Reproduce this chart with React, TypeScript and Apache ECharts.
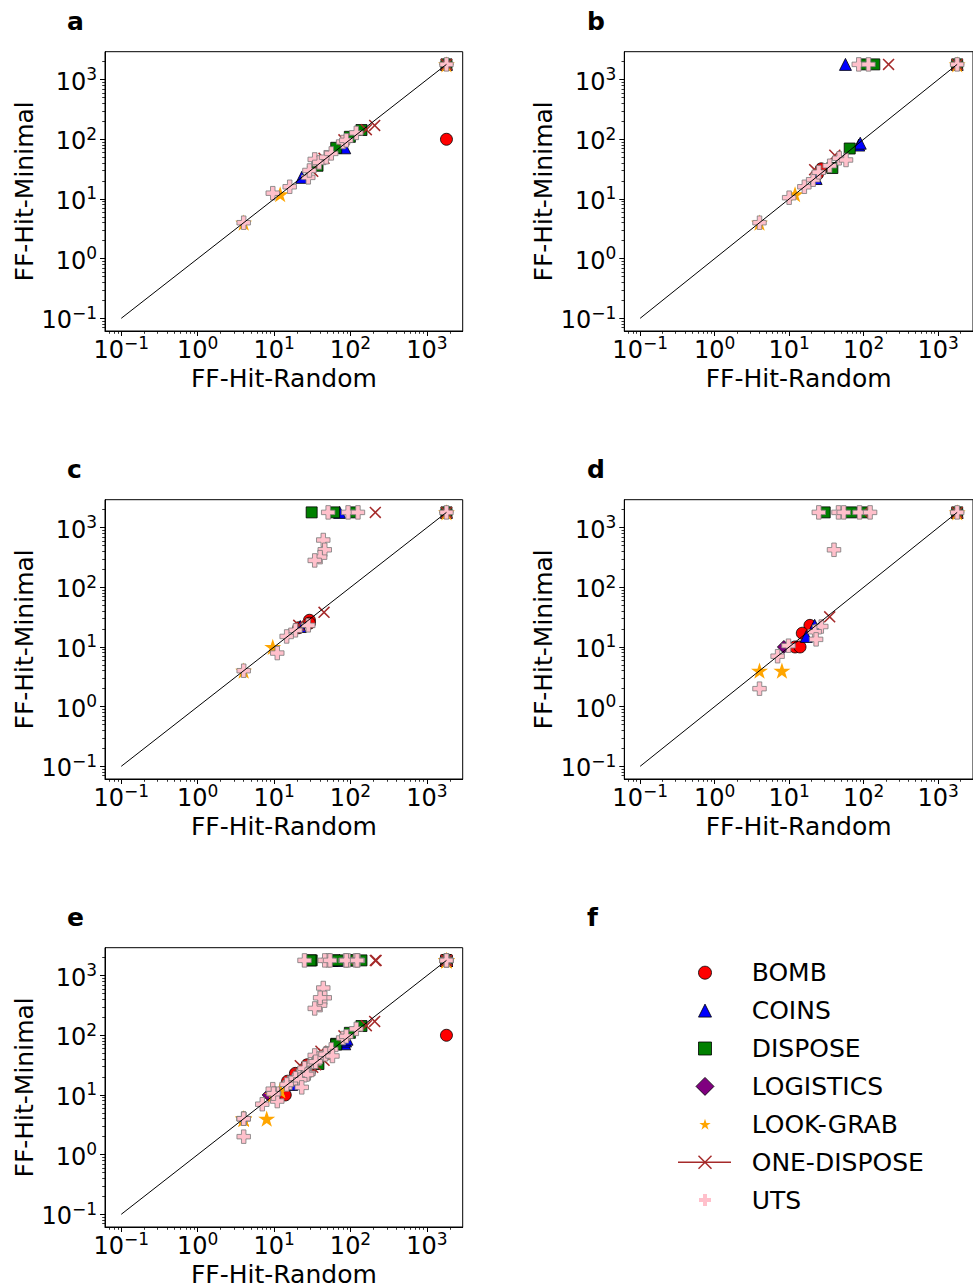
import React, { useEffect, useRef } from "react";
import * as echarts from "echarts";

type P = [number, number][];

const SERIES_NAMES = ["BOMB", "COINS", "DISPOSE", "LOGISTICS", "LOOK-GRAB", "ONE-DISPOSE", "UTS"];
const PANEL_LETTERS = ["a", "b", "c", "d", "e", "f"];
const TICK_VALUES = [0.1, 1, 10, 100, 1000];
const X_NAME = "FF-Hit-Random";
const Y_NAME = "FF-Hit-Minimal";
const DIAGONAL: P = [[0.1, 0.1], [1800, 1800]];

// ---- panel a ----
const A_BOMB: P = [[1800, 1800], [1800, 100]];
const A_COINS: P = [[1800, 1800], [23, 23], [84, 72]];
const A_DISPOSE: P = [[1800, 1800], [37, 36], [65, 72], [98, 110], [139, 143]];
const A_LOGISTICS: P = [[1800, 1800]];
const A_LOOKGRAB: P = [[1800, 1800], [4, 4], [12, 12]];
const A_ONEDISPOSE: P = [[1800, 1800], [32, 29], [45, 48], [82, 98], [161, 145], [207, 171]];
const A_UTS: P = [[1800, 1800], [4, 4], [9.6, 12.5], [16, 16], [28, 23], [29, 30], [34, 46], [39, 41], [48, 50], [56, 58], [80, 90], [88, 96], [119, 128]];

// ---- panel b ----
const B_BOMB: P = [[1800, 1800], [27, 32], [24, 26]];
const B_COINS: P = [[1800, 1800], [57, 1800], [23, 22], [86, 80], [90, 86]];
const B_DISPOSE: P = [[1800, 1800], [100, 1800], [139, 1800], [38, 33], [65, 70]];
const B_LOGISTICS: P = [[1800, 1800]];
const B_LOOKGRAB: P = [[1800, 1800], [4, 4], [12, 12]];
const B_ONEDISPOSE: P = [[1800, 1800], [216, 1800], [22, 31], [41, 54]];
const B_UTS: P = [[1800, 1800], [86, 1800], [116, 1800], [4, 4], [10, 10.5], [16, 16], [21, 21], [25, 28], [35, 36], [47, 48], [58, 45]];

// ---- panel c ----
const C_BOMB: P = [[1800, 1800], [29, 28], [29, 25], [21, 21]];
const C_COINS: P = [[1800, 1800], [72, 1800], [22, 22]];
const C_DISPOSE: P = [[1800, 1800], [31, 1800], [61, 1800], [110, 1800]];
const C_LOGISTICS: P = [[1800, 1800]];
const C_LOOKGRAB: P = [[1800, 1800], [4, 4], [9.6, 10]];
const C_ONEDISPOSE: P = [[1800, 1800], [211, 1800], [45, 38], [21, 23]];
const C_UTS: P = [[1800, 1800], [51, 1800], [93, 1800], [125, 1800], [44, 620], [46, 425], [40, 320], [34, 282], [28, 23], [19, 19], [14.6, 15], [11, 7.9], [4, 4]];

// ---- panel d ----
const D_BOMB: P = [[1800, 1800], [19, 23], [15, 17], [12, 10], [14, 10]];
const D_COINS: P = [[1800, 1800], [22, 23], [17, 15]];
const D_DISPOSE: P = [[1800, 1800], [30, 1800], [68, 1800], [100, 1800]];
const D_LOGISTICS: P = [[1800, 1800], [8.5, 10]];
const D_LOOKGRAB: P = [[1800, 1800], [4, 4], [8, 4]];
const D_ONEDISPOSE: P = [[1800, 1800], [98, 1800], [35, 32]];
const D_UTS: P = [[1800, 1800], [25, 1800], [46, 1800], [54, 1800], [88, 1800], [122, 1800], [40, 425], [27, 22], [22, 18], [23, 13.4], [9.8, 10.5], [7, 7], [4, 2]];

// ---- panel e: all runs together ----
const E_BOMB: P = [...A_BOMB, ...B_BOMB, ...C_BOMB, ...D_BOMB];
const E_COINS: P = [...A_COINS, ...B_COINS, ...C_COINS, ...D_COINS];
const E_DISPOSE: P = [...A_DISPOSE, ...B_DISPOSE, ...C_DISPOSE, ...D_DISPOSE];
const E_LOGISTICS: P = [...A_LOGISTICS, ...B_LOGISTICS, ...C_LOGISTICS, ...D_LOGISTICS];
const E_LOOKGRAB: P = [...A_LOOKGRAB, ...B_LOOKGRAB, ...C_LOOKGRAB, ...D_LOOKGRAB];
const E_ONEDISPOSE: P = [...A_ONEDISPOSE, ...B_ONEDISPOSE, ...C_ONEDISPOSE, ...D_ONEDISPOSE];
const E_UTS: P = [...A_UTS, ...B_UTS, ...C_UTS, ...D_UTS];

const PANEL_DATA: P[][] = [
  [A_BOMB, A_COINS, A_DISPOSE, A_LOGISTICS, A_LOOKGRAB, A_ONEDISPOSE, A_UTS],
  [B_BOMB, B_COINS, B_DISPOSE, B_LOGISTICS, B_LOOKGRAB, B_ONEDISPOSE, B_UTS],
  [C_BOMB, C_COINS, C_DISPOSE, C_LOGISTICS, C_LOOKGRAB, C_ONEDISPOSE, C_UTS],
  [D_BOMB, D_COINS, D_DISPOSE, D_LOGISTICS, D_LOOKGRAB, D_ONEDISPOSE, D_UTS],
  [E_BOMB, E_COINS, E_DISPOSE, E_LOGISTICS, E_LOOKGRAB, E_ONEDISPOSE, E_UTS],
];

// ---- styling / layout ----
const FONT = "DejaVu Sans";
const AX_MIN = Math.pow(10, -1.2128);
const AX_MAX = Math.pow(10, 3.4678);
const COL_LEFT = [105, 624.3];
const ROW_TOP = [51.7, 499.7, 947.7];
const GW = 357.7;
const GH = 279.3;

const MINOR_TICKS: number[] = [];
for (let p = -2; p <= 3; p++) {
  for (let k = 2; k <= 9; k++) {
    const v = k * Math.pow(10, p);
    if (v > AX_MIN && v < AX_MAX) MINOR_TICKS.push(v);
  }
}

function starPts(cx: number, cy: number, R: number): number[][] {
  const pts: number[][] = [];
  for (let i = 0; i < 10; i++) {
    const r = i % 2 === 0 ? R : R * 0.381966;
    const a = -Math.PI / 2 + (i * Math.PI) / 5;
    pts.push([cx + r * Math.cos(a), cy + r * Math.sin(a)]);
  }
  return pts;
}
const STAR_PATH = "path://M" + starPts(50, 50, 50).map((p) => p[0].toFixed(2) + "," + p[1].toFixed(2)).join("L") + "Z";
const PLUS_PATH = "path://M2,0L4,0L4,2L6,2L6,4L4,4L4,6L2,6L2,4L0,4L0,2L2,2Z";
const X_PATH = "path://M0,9L9,0L50,41L91,0L100,9L59,50L100,91L91,100L50,59L9,100L0,91L41,50Z";

const STYLES = [
  { symbol: "circle", size: 12, color: "#ff0000", border: "#000000", bw: 0.8 },
  { symbol: "triangle", size: 12, color: "#0000ff", border: "#000000", bw: 0.8 },
  { symbol: "rect", size: 11, color: "#008000", border: "#000000", bw: 0.8 },
  { symbol: "diamond", size: 13, color: "#800080", border: "#000000", bw: 0.8 },
  { symbol: STAR_PATH, size: 17, color: "#ffa500", border: "#ffa500", bw: 0 },
  { symbol: X_PATH, size: 12, color: "#a52a2a", border: "#a52a2a", bw: 0 },
  { symbol: PLUS_PATH, size: 13.5, color: "#ffc0cb", border: "#7a7a7a", bw: 0.8 },
];

const fmtPow = (v: number) => {
  const e = Math.round(Math.log10(v));
  return `{b|10}{e|${e < 0 ? "\u2212" + -e : e}}`;
};
const RICH = {
  b: { fontSize: 24, fontFamily: FONT, color: "#000", lineHeight: 28, verticalAlign: "bottom" },
  e: { fontSize: 17, fontFamily: FONT, color: "#000", lineHeight: 14, verticalAlign: "top" },
};

function buildOption() {
  const grid: any[] = [];
  const xAxis: any[] = [];
  const yAxis: any[] = [];
  const series: any[] = [];
  const graphic: any[] = [];

  PANEL_DATA.forEach((panel, i) => {
    const col = i % 2;
    const row = Math.floor(i / 2);
    grid.push({
      left: COL_LEFT[col],
      top: ROW_TOP[row],
      width: GW,
      height: GH,
      show: true,
      borderColor: "#000",
      borderWidth: 1,
      backgroundColor: "transparent",
    });
    const common = {
      type: "log",
      logBase: 10,
      gridIndex: i,
      min: AX_MIN,
      max: AX_MAX,
      splitLine: { show: false },
      minorTick: { show: false },
      minorSplitLine: { show: false },
    };
    xAxis.push({
      ...common,
      position: "bottom",
      axisLine: { show: true, onZero: false, lineStyle: { color: "#000", width: 1 } },
      axisTick: { show: true, inside: false, length: 5, customValues: TICK_VALUES, lineStyle: { color: "#000", width: 1 } },
      axisLabel: { show: true, customValues: TICK_VALUES, formatter: fmtPow, rich: RICH, margin: 3, color: "#000" },
      name: X_NAME,
      nameLocation: "middle",
      nameGap: 34,
      nameTextStyle: { fontSize: 25, fontFamily: FONT, color: "#000", lineHeight: 26 },
    });
    xAxis.push({
      ...common,
      position: "bottom",
      axisLine: { show: false },
      axisTick: { show: true, inside: false, length: 2.8, customValues: MINOR_TICKS, lineStyle: { color: "#000", width: 0.8 } },
      axisLabel: { show: false },
    });
    yAxis.push({
      ...common,
      position: "left",
      axisLine: { show: true, onZero: false, lineStyle: { color: "#000", width: 1 } },
      axisTick: { show: true, inside: false, length: 5, customValues: TICK_VALUES, lineStyle: { color: "#000", width: 1 } },
      axisLabel: { show: true, customValues: TICK_VALUES, formatter: fmtPow, rich: RICH, margin: 8, color: "#000" },
      name: Y_NAME,
      nameLocation: "middle",
      nameGap: 68,
      nameRotate: 90,
      nameTextStyle: { fontSize: 25, fontFamily: FONT, color: "#000", lineHeight: 26 },
    });
    yAxis.push({
      ...common,
      position: "left",
      axisLine: { show: false },
      axisTick: { show: true, inside: false, length: 2.8, customValues: MINOR_TICKS, lineStyle: { color: "#000", width: 0.8 } },
      axisLabel: { show: false },
    });

    panel.forEach((data, s) => {
      const st = STYLES[s];
      series.push({
        type: "scatter",
        name: SERIES_NAMES[s],
        xAxisIndex: 2 * i,
        yAxisIndex: 2 * i,
        data,
        symbol: st.symbol,
        symbolSize: st.size,
        symbolKeepAspect: true,
        itemStyle: { color: st.color, borderColor: st.border, borderWidth: st.bw, opacity: 1 },
        z: 2,
        silent: true,
      });
    });
    series.push({
      type: "line",
      xAxisIndex: 2 * i,
      yAxisIndex: 2 * i,
      data: DIAGONAL,
      symbol: "none",
      lineStyle: { color: "#000", width: 1 },
      z: 5,
      silent: true,
    });
  });

  // panel letters
  const letterPos = [
    [67, 21.4], [587, 21.4],
    [67, 469.4], [587, 469.4],
    [67, 917.4], [587, 917.4],
  ];
  PANEL_LETTERS.forEach((t, i) => {
    graphic.push({
      type: "text",
      x: letterPos[i][0],
      y: letterPos[i][1],
      style: { text: t, fontSize: 25, fontWeight: "bold", fontFamily: FONT, fill: "#000", align: "left", verticalAlign: "middle" },
    });
  });

  // legend (panel f)
  const LX = 705;
  const TX = 751.7;
  const rowY = (k: number) => 972.7 + k * 37.9;
  const edge = { stroke: "#000", lineWidth: 0.8 };
  graphic.push({ type: "circle", shape: { cx: LX, cy: rowY(0), r: 6.5 }, style: { fill: STYLES[0].color, ...edge } });
  graphic.push({
    type: "polygon",
    shape: { points: [[LX, rowY(1) - 6.5], [LX - 6.5, rowY(1) + 6.5], [LX + 6.5, rowY(1) + 6.5]] },
    style: { fill: STYLES[1].color, ...edge },
  });
  graphic.push({ type: "rect", shape: { x: LX - 6.5, y: rowY(2) - 6.5, width: 13, height: 13 }, style: { fill: STYLES[2].color, ...edge } });
  graphic.push({
    type: "polygon",
    shape: { points: [[LX, rowY(3) - 9], [LX + 9, rowY(3)], [LX, rowY(3) + 9], [LX - 9, rowY(3)]] },
    style: { fill: STYLES[3].color, ...edge },
  });
  graphic.push({ type: "polygon", shape: { points: starPts(LX, rowY(4) + 0.5, 6) }, style: { fill: STYLES[4].color } });
  graphic.push({ type: "line", shape: { x1: 678, y1: rowY(5), x2: 731, y2: rowY(5) }, style: { stroke: STYLES[5].color, lineWidth: 1.5 } });
  graphic.push({ type: "line", shape: { x1: LX - 6.5, y1: rowY(5) - 6.5, x2: LX + 6.5, y2: rowY(5) + 6.5 }, style: { stroke: STYLES[5].color, lineWidth: 1.5 } });
  graphic.push({ type: "line", shape: { x1: LX - 6.5, y1: rowY(5) + 6.5, x2: LX + 6.5, y2: rowY(5) - 6.5 }, style: { stroke: STYLES[5].color, lineWidth: 1.5 } });
  {
    const c = rowY(6);
    const h = 6;
    const a = 2;
    graphic.push({
      type: "polygon",
      shape: {
        points: [
          [LX - a, c - h], [LX + a, c - h], [LX + a, c - a], [LX + h, c - a], [LX + h, c + a], [LX + a, c + a],
          [LX + a, c + h], [LX - a, c + h], [LX - a, c + a], [LX - h, c + a], [LX - h, c - a], [LX - a, c - a],
        ],
      },
      style: { fill: STYLES[6].color },
    });
  }
  SERIES_NAMES.forEach((n, k) => {
    graphic.push({
      type: "text",
      x: TX,
      y: rowY(k),
      style: { text: n, fontSize: 25, fontFamily: FONT, fill: "#000", align: "left", verticalAlign: "middle" },
    });
  });

  return {
    animation: false,
    backgroundColor: "#ffffff",
    textStyle: { fontFamily: FONT },
    grid,
    xAxis,
    yAxis,
    series,
    graphic,
  };
}

export default function App() {
  const ref = useRef<HTMLDivElement>(null);
  useEffect(() => {
    if (!ref.current) return;
    const chart = echarts.init(ref.current, null, { renderer: "svg" });
    chart.setOption(buildOption() as any);
    return () => chart.dispose();
  }, []);
  return (
    <div
      ref={ref}
      style={{ position: "absolute", left: 0, top: 0, width: 973, height: 1288, background: "#fff" }}
    />
  );
}
